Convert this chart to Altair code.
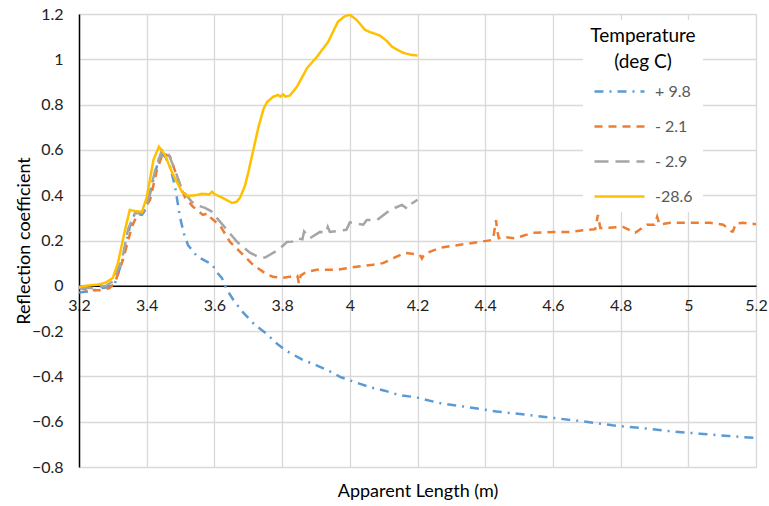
import altair as alt
import pandas as pd

# ---- data ----
series = ["+ 9.8", "- 2.1", "- 2.9", "-28.6"]
colors = ["#5B9BD5", "#ED7D31", "#A5A5A5", "#FFC000"]
dashes = [[9, 6, 2, 6], [8, 6], [14, 7], [1, 0]]

x_p98 = [3.20, 3.23, 3.268, 3.29, 3.306, 3.33, 3.35, 3.365, 3.386, 3.40, 3.42, 3.44, 3.455,
         3.469, 3.484, 3.498, 3.51, 3.522, 3.55, 3.593, 3.607, 3.622, 3.637, 3.659, 3.686,
         3.718, 3.75, 3.787, 3.814, 3.857, 3.90, 3.937, 3.974, 4.017, 4.06, 4.103, 4.145,
         4.194, 4.263, 4.349, 4.434, 4.52, 4.605, 4.69, 4.776, 4.862, 4.947, 5.033, 5.119, 5.2]
y_p98 = [-0.03, -0.025, -0.01, -0.005, 0.01, 0.12, 0.26, 0.32, 0.313, 0.345, 0.47, 0.585, 0.57,
         0.525, 0.437, 0.305, 0.23, 0.18, 0.128, 0.095, 0.06, 0.035, -0.018, -0.069, -0.12,
         -0.17, -0.207, -0.258, -0.288, -0.324, -0.35, -0.375, -0.404, -0.426, -0.448, -0.463,
         -0.482, -0.492, -0.517, -0.536, -0.555, -0.569, -0.584, -0.599, -0.616, -0.628, -0.642,
         -0.653, -0.663, -0.672]

x_m21 = [3.20, 3.23, 3.26, 3.29, 3.306, 3.33, 3.356, 3.374, 3.39, 3.41, 3.43, 3.448, 3.469,
         3.49, 3.513, 3.537, 3.566, 3.58, 3.59, 3.617, 3.646, 3.676, 3.714, 3.755, 3.773, 3.80,
         3.823, 3.845, 3.85, 3.855, 3.87, 3.903, 3.962, 4.02, 4.068, 4.098, 4.119, 4.163, 4.19,
         4.207, 4.213, 4.22, 4.266, 4.326, 4.385, 4.423, 4.432, 4.435, 4.44, 4.453, 4.488,
         4.541, 4.60, 4.65, 4.70, 4.725, 4.733, 4.74, 4.76, 4.807, 4.843, 4.878, 4.9, 4.908,
         4.915, 4.946, 5.005, 5.064, 5.103, 5.128, 5.132, 5.14, 5.162, 5.2]
y_m21 = [-0.01, -0.02, -0.02, -0.01, 0.013, 0.115, 0.26, 0.32, 0.33, 0.38, 0.51, 0.587, 0.57,
         0.48, 0.39, 0.349, 0.313, 0.32, 0.30, 0.265, 0.194, 0.15, 0.093, 0.05, 0.04, 0.035,
         0.04, 0.045, 0.01, 0.045, 0.06, 0.071, 0.071, 0.084, 0.093, 0.10, 0.115, 0.146, 0.14,
         0.137, 0.12, 0.14, 0.168, 0.181, 0.194, 0.203, 0.29, 0.25, 0.21, 0.216, 0.21, 0.234,
         0.238, 0.238, 0.247, 0.25, 0.313, 0.255, 0.256, 0.26, 0.234, 0.27, 0.27, 0.305, 0.27,
         0.278, 0.278, 0.278, 0.27, 0.24, 0.24, 0.275, 0.278, 0.272]

x_m29 = [3.20, 3.24, 3.28, 3.30, 3.327, 3.345, 3.365, 3.386, 3.40, 3.425, 3.445, 3.463, 3.484,
         3.504, 3.534, 3.55, 3.572, 3.59, 3.607, 3.637, 3.667, 3.705, 3.735, 3.75, 3.764, 3.79,
         3.815, 3.83, 3.844, 3.86, 3.865, 3.882, 3.912, 3.93, 3.935, 3.941, 3.99, 4.0, 4.04,
         4.05, 4.08, 4.119, 4.154, 4.17, 4.18, 4.2]
y_m29 = [-0.01, -0.01, 0.0, 0.02, 0.115, 0.25, 0.32, 0.32, 0.357, 0.51, 0.60, 0.587, 0.51,
         0.424, 0.37, 0.355, 0.344, 0.33, 0.30, 0.247, 0.194, 0.146, 0.124, 0.125, 0.137, 0.16,
         0.194, 0.195, 0.21, 0.205, 0.24, 0.21, 0.238, 0.235, 0.26, 0.238, 0.247, 0.28, 0.27,
         0.29, 0.29, 0.335, 0.357, 0.34, 0.36, 0.38]

x_m286 = [3.20, 3.22, 3.24, 3.26, 3.28, 3.30, 3.315, 3.336, 3.35, 3.365, 3.386, 3.40, 3.42,
          3.436, 3.454, 3.475, 3.504, 3.522, 3.545, 3.563, 3.585, 3.593, 3.60, 3.622, 3.652,
          3.665, 3.676, 3.69, 3.70, 3.715, 3.73, 3.745, 3.755, 3.773, 3.788, 3.795, 3.803,
          3.81, 3.823, 3.844, 3.874, 3.903, 3.936, 3.965, 3.985, 4.0, 4.02, 4.045, 4.06,
          4.089, 4.11, 4.125, 4.157, 4.18, 4.2]
y_m286 = [-0.005, 0.0, 0.003, 0.006, 0.015, 0.035, 0.10, 0.247, 0.335, 0.33, 0.327, 0.39, 0.556,
          0.614, 0.578, 0.50, 0.415, 0.397, 0.40, 0.406, 0.404, 0.415, 0.405, 0.39, 0.366,
          0.37, 0.389, 0.44, 0.50, 0.60, 0.70, 0.78, 0.81, 0.834, 0.843, 0.835, 0.845, 0.835,
          0.84, 0.879, 0.962, 1.011, 1.077, 1.166, 1.19, 1.197, 1.174, 1.13, 1.12, 1.105,
          1.08, 1.055, 1.029, 1.02, 1.017]

x_ticks = [3.2, 3.4, 3.6, 3.8, 4.0, 4.2, 4.4, 4.6, 4.8, 5.0, 5.2]
y_ticks = [-0.8, -0.6, -0.4, -0.2, 0.0, 0.2, 0.4, 0.6, 0.8, 1.0, 1.2]

rows = []
for name, xs, ys in zip(series, [x_p98, x_m21, x_m29, x_m286], [y_p98, y_m21, y_m29, y_m286]):
    for i, (xv, yv) in enumerate(zip(xs, ys)):
        rows.append({"series": name, "x": xv, "y": yv, "order": i})
df = pd.DataFrame(rows)

W, H = 677, 453
X0, X1 = 3.2, 5.2
Y0, Y1 = -0.8, 1.2
zero_offset = -H * (0 - Y0) / (Y1 - Y0)
FONT = "Lato"

chart = alt.Chart(df).mark_line(strokeWidth=2.5, clip=True).encode(
    x=alt.X("x:Q",
            scale=alt.Scale(domain=[X0, X1], nice=False, zero=False),
            axis=alt.Axis(values=x_ticks, format="~g", offset=zero_offset,
                          title="Apparent Length (m)", titleY=197, titleBaseline="top",
                          titleFontSize=18, titleFont=FONT, titleFontWeight="normal",
                          titleColor="#000000",
                          domainColor="#000000", domainWidth=1.5, ticks=False,
                          labelPadding=12, labelFontSize=16, labelFont=FONT,
                          labelColor="#222222", labelOverlap=False, labelFlush=False,
                          labelBound=False, grid=True, gridColor="#D9D9D9", gridWidth=1.3)),
    y=alt.Y("y:Q",
            scale=alt.Scale(domain=[Y0, Y1], nice=False, zero=False),
            axis=alt.Axis(values=y_ticks, format="~g", ticks=False, labelPadding=16,
                          labelFontSize=16, labelFont=FONT, labelColor="#222222",
                          domainColor="#000000", domainWidth=1.5,
                          title="Reflection coefficient", titleFontSize=18, titleFont=FONT,
                          titleFontWeight="normal", titleColor="#000000",
                          titleX=-55, titleBaseline="middle",
                          grid=True, gridColor="#D9D9D9", gridWidth=1.3,
                          labelOverlap=False, labelFlush=False)),
    color=alt.Color("series:N", scale=alt.Scale(domain=series, range=colors),
                    legend=alt.Legend(title=["Temperature", "(deg C)"], orient="none",
                                      legendX=504, legendY=6, fillColor="white",
                                      padding=7, titleFontSize=19, titleFont=FONT,
                                      titleFontWeight="normal", titleColor="#000000",
                                      titleAnchor="middle", titleAlign="center",
                                      titlePadding=-7, titleLineHeight=26,
                                      labelFontSize=16, labelFont=FONT, labelColor="#595959",
                                      labelOffset=9, symbolType="stroke", symbolSize=2500,
                                      symbolStrokeWidth=2.5, rowPadding=-24)),
    strokeDash=alt.StrokeDash("series:N", scale=alt.Scale(domain=series, range=dashes),
                              legend=alt.Legend(title=["Temperature", "(deg C)"])),
    order="order:Q",
).properties(
    width=W, height=H,
    autosize=alt.AutoSizeParams(type="none"),
    padding={"left": 79, "top": 14, "right": 13, "bottom": 39},
).configure_view(stroke=None)

chart.save("out.html", embed_options={"renderer": "svg", "actions": False})
